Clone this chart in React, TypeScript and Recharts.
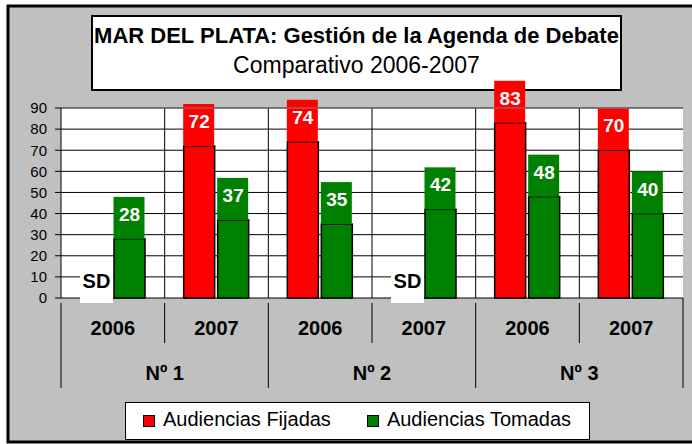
import { Bar, BarChart, CartesianGrid, Legend, ReferenceLine, XAxis, YAxis } from "recharts";

// Categorías: año dentro de cada juzgado
const anios = ["2006", "2007", "2006", "2007", "2006", "2007"];
const juzgados = ["Nº 1", "Nº 1", "Nº 2", "Nº 2", "Nº 3", "Nº 3"];
// null = SD (sin datos)
const fijadas = [null, 72, 74, null, 83, 70];
const tomadas = [28, 37, 35, 42, 48, 40];
const yTicks = [0, 10, 20, 30, 40, 50, 60, 70, 80, 90];

const data = anios.map((anio, i) => ({
  anio,
  juzgado: juzgados[i],
  fijadas: fijadas[i] ?? 0,
  sd: fijadas[i] == null,
  tomadas: tomadas[i],
}));

const W = 692;
const H = 444;
const PLOT_LEFT = 61;
const PLOT_RIGHT = 683;
const PLOT_TOP = 108;
const PLOT_BOTTOM = 298;
const BAND = (PLOT_RIGHT - PLOT_LEFT) / anios.length;

const FONT = '"Liberation Sans", Arial, Helvetica, sans-serif';
const ROJO = "#FF0000";
const VERDE = "#008000";

const barraConEtiqueta = (key: "fijadas" | "tomadas") => (props: any) => {
  const { x, y, width, height, fill, payload } = props;
  if (key === "fijadas" && payload.sd) {
    return (
      <g>
        <rect x={x} y={y - 33} width={width + 2} height={38} fill="#fff" />
        <text
          x={x + width / 2 + 1}
          y={y - 10}
          textAnchor="middle"
          fontFamily={FONT}
          fontWeight="bold"
          fontSize={20}
          fill="#000"
        >
          SD
        </text>
      </g>
    );
  }
  return (
    <g>
      <rect x={x} y={y} width={width} height={height} fill={fill} stroke="#000" strokeWidth={1.5} />
      <rect x={x - 0.5} y={y - 42} width={width} height={42} fill={fill} />
      <text
        x={x + width / 2}
        y={y - 18}
        textAnchor="middle"
        fontFamily={FONT}
        fontWeight="bold"
        fontSize={19}
        fill="#fff"
      >
        {payload[key]}
      </text>
    </g>
  );
};

function TickAnio(props: any) {
  const { x, y, index, payload } = props;
  const half = BAND / 2;
  const ultimo = index === anios.length - 1;
  const inicioGrupo = index === 0 || juzgados[index] !== juzgados[index - 1];
  return (
    <g>
      <line x1={x - half} x2={x - half} y1={y + 5} y2={y + (inicioGrupo ? 90 : 45)} stroke="#000" />
      {ultimo && <line x1={x + half} x2={x + half} y1={y} y2={y + 90} stroke="#000" />}
      <text x={x} y={y + 37} textAnchor="middle" fontFamily={FONT} fontWeight="bold" fontSize={20} fill="#000">
        {payload.value}
      </text>
      {inicioGrupo && (
        <text x={x + half} y={y + 82} textAnchor="middle" fontFamily={FONT} fontWeight="bold" fontSize={20} fill="#000">
          {juzgados[index]}
        </text>
      )}
    </g>
  );
}

function Leyenda({ payload }: any) {
  return (
    <div
      style={{
        width: 465,
        height: 38,
        boxSizing: "border-box",
        border: "1px solid #000",
        background: "#fff",
        display: "flex",
        alignItems: "center",
        paddingLeft: 17,
        paddingBottom: 4,
        gap: 36,
        fontFamily: FONT,
        fontSize: 20,
        color: "#000",
        whiteSpace: "nowrap",
      }}
    >
      {(payload || []).map((entry: any) => (
        <span key={entry.value} style={{ display: "flex", alignItems: "center" }}>
          <span
            style={{
              display: "inline-block",
              width: 10,
              height: 10,
              background: entry.color,
              border: "1px solid #000",
              marginRight: 8,
              marginTop: 3,
            }}
          />
          {entry.value}
        </span>
      ))}
    </div>
  );
}

export default function App() {
  return (
    <div style={{ position: "absolute", left: 0, top: 0, width: W, height: H, background: "#fff", overflow: "hidden" }}>
      <svg width={W} height={H} style={{ position: "absolute", left: 0, top: 0 }}>
        <rect x={8} y={6} width={700} height={436} fill="#C0C0C0" stroke="#000" strokeWidth={3} />
        <rect x={92} y={16} width={529} height={74} fill="#fff" stroke="#000" strokeWidth={2} />
        <text x={356.5} y={43} textAnchor="middle" fontFamily={FONT} fontWeight="bold" fontSize={22} fill="#000">
          MAR DEL PLATA: Gestión de la Agenda de Debate
        </text>
        <text x={356.5} y={73} textAnchor="middle" fontFamily={FONT} fontSize={23} fill="#000">
          Comparativo 2006-2007
        </text>
      </svg>
      <div style={{ position: "absolute", left: 0, top: 0 }}>
        <BarChart
          width={W}
          height={H}
          data={data}
          margin={{ top: PLOT_TOP, right: W - PLOT_RIGHT, left: 0, bottom: 0 }}
          barSize={31}
          barGap={3}
        >
          <CartesianGrid
            stroke="#000"
            fill="#fff"
            fillOpacity={1}
            verticalCoordinatesGenerator={({ offset }: any) =>
              anios.slice(1).map((_, i) => offset.left + ((i + 1) * offset.width) / anios.length)
            }
          />
          <XAxis
            dataKey="anio"
            height={H - PLOT_BOTTOM}
            interval={0}
            tickLine={false}
            tickSize={0}
            tickMargin={0}
            axisLine={false}
            tick={(p: any) => <TickAnio {...p} />}
          />
          <YAxis
            width={PLOT_LEFT}
            domain={[0, 90]}
            ticks={yTicks}
            interval={0}
            tickSize={6}
            tickMargin={8}
            axisLine={{ stroke: "#000" }}
            tickLine={{ stroke: "#000" }}
            tick={{ fontSize: 15, fill: "#000", fontFamily: FONT }}
          />
          <YAxis
            yAxisId="borde"
            orientation="right"
            width={0}
            domain={[0, 90]}
            tick={false}
            tickLine={false}
            axisLine={{ stroke: "#808080" }}
          />
          <ReferenceLine y={90} stroke="#808080" />
          <Legend
            layout="horizontal"
            align="center"
            verticalAlign="middle"
            wrapperStyle={{ left: 125, top: 402, width: 465, height: 38 }}
            content={(p: any) => <Leyenda {...p} />}
          />
          <Bar
            dataKey="fijadas"
            name="Audiencias Fijadas"
            fill={ROJO}
            isAnimationActive={false}
            shape={barraConEtiqueta("fijadas")}
          />
          <Bar
            dataKey="tomadas"
            name="Audiencias Tomadas"
            fill={VERDE}
            isAnimationActive={false}
            shape={barraConEtiqueta("tomadas")}
          />
        </BarChart>
      </div>
    </div>
  );
}
